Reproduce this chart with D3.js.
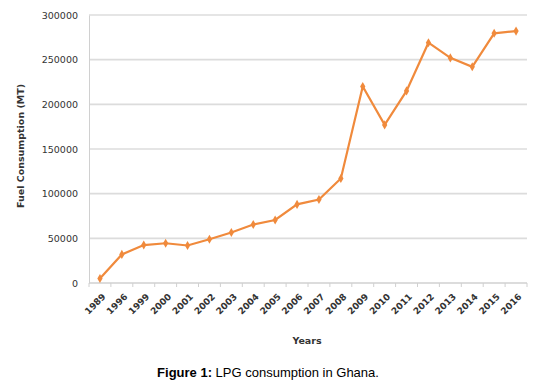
<!DOCTYPE html>
<html>
<head>
<meta charset="utf-8">
<script src="https://cdn.jsdelivr.net/npm/d3@7"></script>
<style>
  body { margin: 0; background: #fff; }
  .tick text { font-family: "DejaVu Sans", Verdana, sans-serif; font-size: 9.5px; fill: #333; }
</style>
</head>
<body>
<div id="chart"></div>
<script>
let years = ["1989", "1996", "1999", "2000", "2001", "2002", "2003", "2004", "2005", "2006",
             "2007", "2008", "2009", "2010", "2011", "2012", "2013", "2014", "2015", "2016"];
let consumption = [5000, 32000, 42500, 44500, 42000, 49000, 56500, 65500, 70500, 88000,
                   93500, 117000, 220000, 177000, 215000, 269000, 252000, 242000, 279500, 282000];
let yTicks = [0, 50000, 100000, 150000, 200000, 250000, 300000];

let margin = {top: 15, right: 8, bottom: 102, left: 89};
let width = 535 - margin.left - margin.right;
let height = 385 - margin.top - margin.bottom;

let svg = d3.select("#chart").append("svg")
    .attr("width", 535)
    .attr("height", 385);

let g = svg.append("g")
    .attr("transform", `translate(${margin.left}, ${margin.top})`);

let x = d3.scaleBand()
    .domain(years)
    .range([0, width]);
let y = d3.scaleLinear()
    .domain([0, 300000])
    .range([height, 0]);

// Gridlines
g.selectAll(".grid")
    .data(yTicks.filter(d => d > 0))
    .enter()
    .append("line")
    .attr("x1", 0)
    .attr("x2", width)
    .attr("y1", d => y(d))
    .attr("y2", d => y(d))
    .attr("stroke", "#dcdcdc")
    .attr("stroke-width", 1.6);

// Y axis
let yAxis = g.append("g")
    .call(d3.axisLeft(y).tickValues(yTicks).tickSize(0).tickPadding(11).tickFormat(d3.format("d")));
yAxis.select(".domain").attr("stroke", "#d0d0d0");

// X axis, ticks between categories
let xAxisG = g.append("g")
    .attr("transform", `translate(0, ${height})`);
xAxisG.append("line")
    .attr("x1", 0).attr("x2", width)
    .attr("stroke", "#d0d0d0").attr("stroke-width", 1.6);
xAxisG.selectAll(".xtick")
    .data(years.concat(["end"]))
    .enter()
    .append("line")
    .attr("x1", (d, i) => i * x.step())
    .attr("x2", (d, i) => i * x.step())
    .attr("y1", 0).attr("y2", 4)
    .attr("stroke", "#d0d0d0");
xAxisG.selectAll(".xlabel")
    .data(years)
    .enter()
    .append("text")
    .attr("transform", d => `translate(${x(d) + x.bandwidth() / 2 + 4}, 12) rotate(-45)`)
    .attr("text-anchor", "end")
    .attr("dy", "0.35em")
    .attr("font-family", "DejaVu Sans, Verdana, sans-serif")
    .attr("font-size", 9)
    .attr("font-weight", "bold")
    .attr("fill", "#333")
    .text(d => d);

// Line
let line = d3.line()
    .x((d, i) => x(years[i]) + x.bandwidth() / 2)
    .y(d => y(d));
g.append("path")
    .datum(consumption)
    .attr("fill", "none")
    .attr("stroke", "#f08a3c")
    .attr("stroke-width", 2.2)
    .attr("d", line);

// Markers
g.selectAll(".marker")
    .data(consumption)
    .enter()
    .append("path")
    .attr("d", d3.symbol(d3.symbolDiamond, 24))
    .attr("transform", (d, i) => `translate(${x(years[i]) + x.bandwidth() / 2}, ${y(d)})`)
    .attr("fill", "#f08a3c");

// Axis titles
svg.append("text")
    .attr("transform", `translate(24, ${margin.top + height / 2 - 3}) rotate(-90)`)
    .attr("text-anchor", "middle")
    .attr("font-family", "DejaVu Sans, Verdana, sans-serif")
    .attr("font-size", 9.5)
    .attr("font-weight", "bold")
    .attr("fill", "#333")
    .text("Fuel Consumption (MT)");

svg.append("text")
    .attr("x", 307)
    .attr("y", 344)
    .attr("text-anchor", "middle")
    .attr("font-family", "DejaVu Sans, Verdana, sans-serif")
    .attr("font-size", 9.5)
    .attr("font-weight", "bold")
    .attr("fill", "#333")
    .text("Years");

// Caption
let caption = svg.append("text")
    .attr("x", 268)
    .attr("y", 377)
    .attr("text-anchor", "middle")
    .attr("font-family", "Liberation Sans, Arial, sans-serif")
    .attr("font-size", 13)
    .attr("fill", "#000");
caption.append("tspan").attr("font-weight", "bold").text("Figure 1:");
caption.append("tspan").text(" LPG consumption in Ghana.");
</script>
</body>
</html>
